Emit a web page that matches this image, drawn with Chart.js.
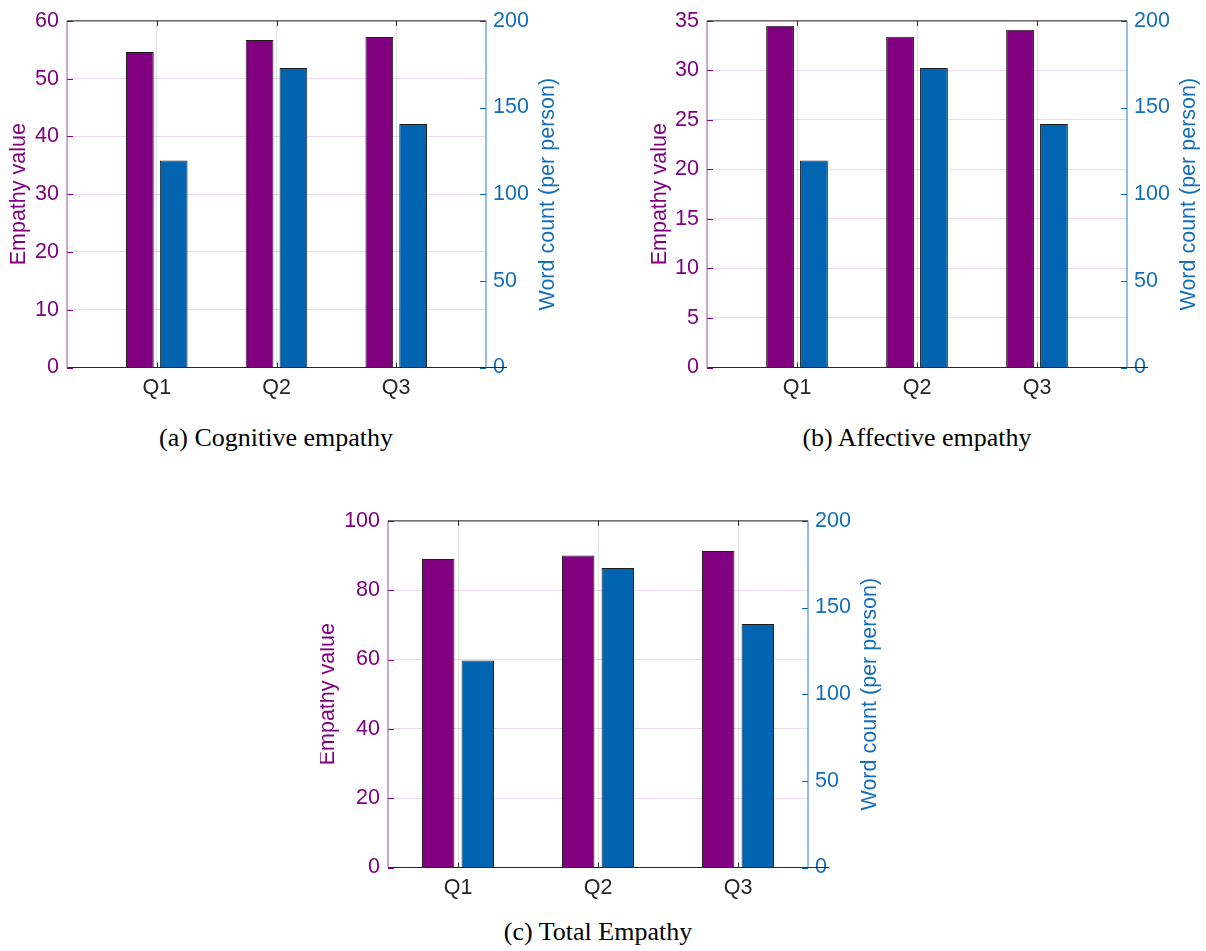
<!DOCTYPE html>
<html>
<head>
<meta charset="utf-8">
<script src="https://cdn.jsdelivr.net/npm/chart.js@4.4.1/dist/chart.umd.min.js"></script>
<style>
  body { margin: 0; background: #fff; width: 1206px; height: 951px; position: relative; overflow: hidden; }
  canvas { position: absolute; }
  .cap { position: absolute; width: 400px; text-align: center; white-space: nowrap;
         font-family: 'Liberation Serif', 'Times New Roman', serif; font-size: 26px; line-height: 30px; color: #000; }
</style>
</head>
<body>
<canvas id="chartA" width="565" height="400" style="left:0px;top:0px"></canvas>
<canvas id="chartB" width="565" height="400" style="left:641px;top:0px"></canvas>
<canvas id="chartC" width="565" height="400" style="left:320px;top:500px"></canvas>
<div class="cap" style="left:76px;top:423px">(a) Cognitive empathy</div>
<div class="cap" style="left:717px;top:423px">(b) Affective empathy</div>
<div class="cap" style="left:398px;top:917px">(c) Total Empathy</div>

<script>
// data
var questions = ['Q1', 'Q2', 'Q3'];
var cognitiveEmpathy = [54.6, 56.7, 57.2];
var affectiveEmpathy = [34.5, 33.4, 34.1];
var totalEmpathy = [89.0, 90.0, 91.3];
var wordCount = [119.5, 172.8, 140.5];

// axis ranges [max, step]
var cognitiveAxis = [60, 10];
var affectiveAxis = [35, 5];
var totalAxis = [100, 20];
var wordAxis = [200, 50];

var purple = '#800080';
var purpleLine = '#9a4f9e';
var blue = '#0064B0';
var blueText = '#126EB8';
var dark = '#262626';
var fontSize = 21.5;

Chart.defaults.font.family = "'Liberation Sans', Arial, Helvetica, sans-serif";
Chart.defaults.font.size = fontSize;

function seg(ctx, x1, y1, x2, y2) {
    ctx.beginPath();
    ctx.moveTo(x1, y1);
    ctx.lineTo(x2, y2);
    ctx.stroke();
}

// MATLAB style box, inward ticks and axis titles
var framePlugin = {
    id: 'frame',
    afterDatasetsDraw: function (chart) {
        var ctx = chart.ctx, a = chart.chartArea;
        var sx = chart.scales.x, yl = chart.scales.y, yr = chart.scales.y1;
        ctx.save();
        ctx.lineWidth = 1;

        ctx.strokeStyle = purple;
        yl.ticks.forEach(function (t) {
            var py = Math.round(yl.getPixelForValue(t.value)) + 0.5;
            seg(ctx, a.left, py, a.left + 6, py);
        });
        ctx.strokeStyle = blue;
        yr.ticks.forEach(function (t) {
            var py = Math.round(yr.getPixelForValue(t.value)) + 0.5;
            seg(ctx, a.right - 6, py, a.right, py);
        });
        ctx.strokeStyle = dark;
        sx.ticks.forEach(function (t) {
            var px = Math.round(sx.getPixelForValue(t.value)) + 0.5;
            seg(ctx, px, a.top, px, a.top + 5);
            seg(ctx, px, a.bottom, px, a.bottom - 5);
        });

        // box
        ctx.strokeStyle = dark;
        seg(ctx, a.left, a.top, a.right, a.top);
        seg(ctx, a.left, a.bottom, a.right + 21, a.bottom);
        ctx.strokeStyle = purpleLine;
        seg(ctx, a.left, a.top, a.left, a.bottom);
        ctx.strokeStyle = '#2a7cc0';
        seg(ctx, a.right, a.top, a.right, a.bottom);
        ctx.restore();
    },
    afterDraw: function (chart, args, opts) {
        var ctx = chart.ctx, a = chart.chartArea;
        var cy = (a.top + a.bottom) / 2;
        ctx.save();
        ctx.font = fontSize + "px 'Liberation Sans', Arial, sans-serif";
        ctx.textAlign = 'center';
        ctx.textBaseline = 'middle';

        ctx.save();
        ctx.translate(a.left - opts.leftDist, cy);
        ctx.rotate(-Math.PI / 2);
        ctx.fillStyle = purple;
        ctx.fillText('Empathy value', 0, 0);
        ctx.restore();

        ctx.save();
        ctx.translate(a.right + opts.rightDist, cy);
        ctx.rotate(-Math.PI / 2);
        ctx.fillStyle = blueText;
        ctx.fillText('Word count (per person)', 0, 0);
        ctx.restore();

        ctx.restore();
    }
};

function makeChart(id, empathy, leftAxis, xPad, leftWidth, plotRight, leftDist) {
    var canvas = document.getElementById(id);
    var ctx = canvas.getContext('2d');
    return new Chart(ctx, {
        type: 'bar',
        data: {
            datasets: [{
                label: 'Empathy value',
                data: empathy.map(function (v, i) { return { x: i + 1, y: v }; }),
                backgroundColor: purple,
                borderColor: '#1e1e1e',
                borderWidth: 1,
                yAxisID: 'y'
            },
            {
                label: 'Word count (per person)',
                data: wordCount.map(function (v, i) { return { x: i + 1, y: v }; }),
                backgroundColor: blue,
                borderColor: '#1e1e1e',
                borderWidth: 1,
                yAxisID: 'y1'
            }]
        },
        options: {
            responsive: false,
            animation: false,
            categoryPercentage: 0.565,
            barPercentage: 0.82,
            layout: { padding: { top: leftAxis === totalAxis ? 19.3 : 19.5, left: 0, right: 0, bottom: 0 } },
            plugins: {
                legend: { display: false },
                tooltip: { enabled: false },
                frame: { leftDist: leftDist, rightDist: 62 }
            },
            scales: {
                x: {
                    type: 'linear',
                    min: 1 - xPad,
                    max: questions.length + xPad,
                    offset: false,
                    grid: { offset: false, color: '#e2e2e2', drawTicks: false },
                    border: { display: false },
                    afterBuildTicks: function (scale) {
                        scale.ticks = questions.map(function (q, i) { return { value: i + 1 }; });
                    },
                    afterFit: function (scale) { scale.height = 400 - 367.5; },
                    ticks: {
                        autoSkip: false,
                        maxRotation: 0,
                        color: dark,
                        padding: 8,
                        callback: function (value) { return questions[value - 1]; }
                    }
                },
                y: {
                    position: 'left',
                    min: 0,
                    max: leftAxis[0],
                    grid: { color: 'rgba(128,0,128,0.14)', drawTicks: false },
                    border: { display: false },
                    afterFit: function (scale) { scale.width = leftWidth; },
                    ticks: { stepSize: leftAxis[1], color: purple, padding: 8 }
                },
                y1: {
                    position: 'right',
                    min: 0,
                    max: wordAxis[0],
                    grid: { drawOnChartArea: false, drawTicks: false },
                    border: { display: false },
                    afterFit: function (scale) { scale.width = 565 - plotRight; },
                    ticks: { stepSize: wordAxis[1], color: blueText, padding: 7 }
                }
            }
        },
        plugins: [framePlugin]
    });
}

makeChart('chartA', cognitiveEmpathy, cognitiveAxis, 0.75, 67, 486, 48);
makeChart('chartB', affectiveEmpathy, affectiveAxis, 0.75, 66, 486, 47);
makeChart('chartC', totalEmpathy, totalAxis, 0.5, 68, 488, 60);
</script>
</body>
</html>
